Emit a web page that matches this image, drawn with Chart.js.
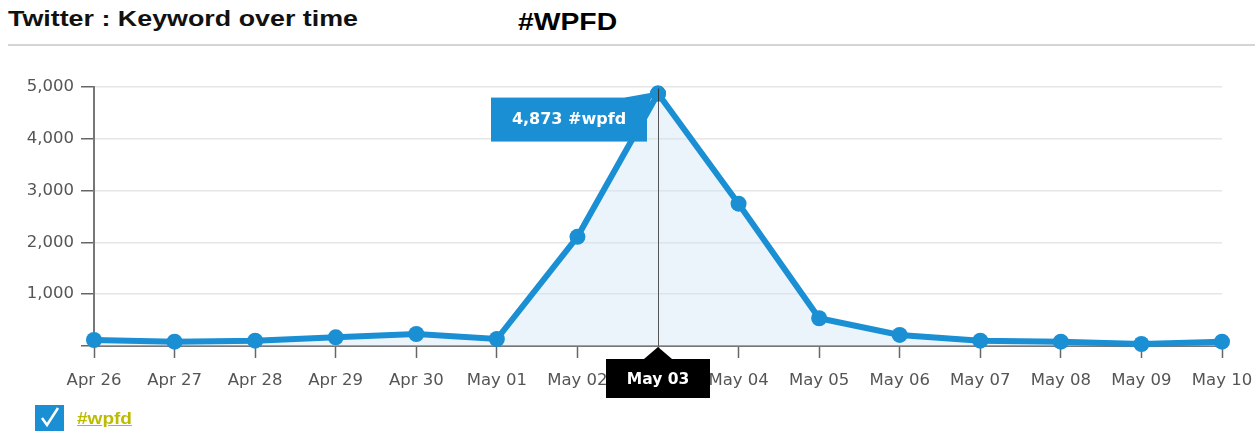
<!DOCTYPE html>
<html>
<head>
<meta charset="utf-8">
<script src="https://cdn.jsdelivr.net/npm/chart.js@4.4.1/dist/chart.umd.min.js"></script>
<style>
  html, body { margin: 0; padding: 0; background: #fff; }
  body { width: 1255px; height: 434px; position: relative; overflow: hidden; font-family: "Liberation Sans", Arial, sans-serif; }
  #titulo { position: absolute; left: 8px; top: 6px; font-size: 22px; font-weight: bold; color: #111; transform: scaleX(1.22); transform-origin: 0 0; white-space: nowrap; }
  #keyword { position: absolute; left: 518px; top: 8px; font-size: 24px; font-weight: bold; color: #000; transform: scaleX(1.18); transform-origin: 0 0; }
  #regua { position: absolute; left: 8px; right: 0; top: 44px; height: 2px; background: #d4d4d4; }
  #grafico { position: absolute; left: 0; top: 50px; width: 1255px; height: 360px; }
  #legenda { position: absolute; left: 35px; top: 405px; height: 27px; }
  #legenda .caixa { position: absolute; left: 0; top: 0; width: 29px; height: 26px; background: #1a8fd3; }
  #legenda .texto { position: absolute; left: 42px; top: 4px; font-size: 17px; font-weight: bold; color: #bdbb00; text-decoration: underline; white-space: nowrap; transform: scaleX(1.12); transform-origin: 0 0; }
</style>
</head>
<body>
<div id="titulo">Twitter : Keyword over time</div>
<div id="keyword">#WPFD</div>
<div id="regua"></div>
<div id="grafico"><canvas id="chartKeyword"></canvas></div>
<div id="legenda">
  <div class="caixa">
    <svg width="29" height="26" viewBox="0 0 29 26"><polyline points="7,13 12,20 23,3" fill="none" stroke="#fff" stroke-width="2.5"/></svg>
  </div>
  <div class="texto">#wpfd</div>
</div>
<script>
const dias = ['Apr 26', 'Apr 27', 'Apr 28', 'Apr 29', 'Apr 30', 'May 01', 'May 02', 'May 03',
  'May 04', 'May 05', 'May 06', 'May 07', 'May 08', 'May 09', 'May 10'];
const tweetsWpfd = [116, 83, 103, 168, 232, 135, 2108, 4873, 2747, 536, 213, 103, 83, 39, 83];
const ticksY = [0, 1000, 2000, 3000, 4000, 5000];
const nomeSerie = '#wpfd';

const AZUL = '#1a8fd3';
const FONTE = '"DejaVu Sans", "Liberation Sans", Arial, sans-serif';

// crosshair + balão do ponto de pico + rótulo preto no eixo x
const destaquePico = {
  id: 'destaquePico',
  afterDatasetsDraw(chart) {
    const { ctx, scales: { x, y }, chartArea } = chart;
    let idx = 0;
    tweetsWpfd.forEach((v, i) => { if (v > tweetsWpfd[idx]) idx = i; });
    const px = x.getPixelForValue(idx);
    const py = y.getPixelForValue(tweetsWpfd[idx]);

    ctx.save();
    // linha vertical
    ctx.strokeStyle = '#555';
    ctx.lineWidth = 1;
    ctx.beginPath();
    ctx.moveTo(Math.round(px) + 0.5, py);
    ctx.lineTo(Math.round(px) + 0.5, chartArea.bottom);
    ctx.stroke();

    // ponto por cima da linha
    ctx.fillStyle = AZUL;
    ctx.beginPath();
    ctx.arc(px, py, 8, 0, Math.PI * 2);
    ctx.fill();
    ctx.strokeStyle = '#333';
    ctx.beginPath();
    ctx.moveTo(Math.round(px) + 0.5, py - 5);
    ctx.lineTo(Math.round(px) + 0.5, py + 8);
    ctx.stroke();

    // balão azul
    const bw = 156, bh = 44;
    const bx = px - 11 - bw, by = py + 4;
    ctx.fillStyle = AZUL;
    ctx.fillRect(bx, by, bw, bh);
    ctx.beginPath();
    ctx.moveTo(bx + bw - 22, by);
    ctx.lineTo(px - 5, py - 1);
    ctx.lineTo(bx + bw, by + 14);
    ctx.closePath();
    ctx.fill();
    ctx.fillStyle = '#fff';
    ctx.font = 'bold 16px ' + FONTE;
    ctx.textAlign = 'center';
    ctx.textBaseline = 'middle';
    ctx.fillText(tweetsWpfd[idx].toLocaleString('en-US') + ' ' + nomeSerie, bx + bw / 2, by + bh / 2);

    // rótulo preto da data
    const lw = 104, lh = 39;
    const lx = px - 52, ly = chartArea.bottom + 13;
    ctx.fillStyle = '#000';
    ctx.fillRect(lx, ly, lw, lh);
    ctx.beginPath();
    ctx.moveTo(px - 14, ly);
    ctx.lineTo(px, chartArea.bottom + 1);
    ctx.lineTo(px + 14, ly);
    ctx.closePath();
    ctx.fill();
    ctx.fillStyle = '#fff';
    ctx.font = 'bold 15.5px ' + FONTE;
    ctx.fillText(dias[idx], px, ly + lh / 2 + 1);
    ctx.restore();
  }
};

new Chart(document.getElementById('chartKeyword'), {
  type: 'line',
  data: {
    labels: dias,
    datasets: [{
      label: nomeSerie,
      data: tweetsWpfd,
      borderColor: AZUL,
      backgroundColor: 'rgba(205,228,245,0.4)',
      fill: 'origin',
      borderWidth: 6,
      tension: 0,
      pointRadius: 8,
      pointBackgroundColor: AZUL,
      pointBorderColor: AZUL,
      pointBorderWidth: 0,
      clip: false
    }]
  },
  options: {
    responsive: true,
    maintainAspectRatio: false,
    animation: false,
    events: [],
    layout: { padding: { top: 37, right: 33, left: 0, bottom: 0 } },
    plugins: {
      legend: { display: false },
      tooltip: { enabled: false }
    },
    scales: {
      x: {
        offset: false,
        afterFit(s) { s.height = 64; s.paddingLeft = 0; s.paddingRight = 0; },
        grid: { drawOnChartArea: false, drawTicks: true, tickLength: 12, tickColor: '#666', tickWidth: 1.5 },
        border: { display: true, color: '#777', width: 2 },
        ticks: { color: '#555', font: { family: FONTE, size: 16.5 }, padding: 13, maxRotation: 0, autoSkip: false }
      },
      y: {
        min: 0,
        max: 5000,
        afterFit(s) { s.width = 94; s.paddingTop = 0; s.paddingBottom = 0; },
        afterBuildTicks(s) { s.ticks = ticksY.map((v) => ({ value: v })); },
        grid: { color: '#e6e6e6', lineWidth: 1.5, tickLength: 13, tickColor: '#666', tickWidth: 1.5 },
        border: { display: true, color: '#777', width: 2 },
        ticks: {
          color: '#555',
          font: { family: FONTE, size: 16.5 },
          padding: 7,
          callback: (v) => v === 0 ? '' : Number(v).toLocaleString('en-US')
        }
      }
    }
  },
  plugins: [destaquePico]
});
</script>
</body>
</html>
